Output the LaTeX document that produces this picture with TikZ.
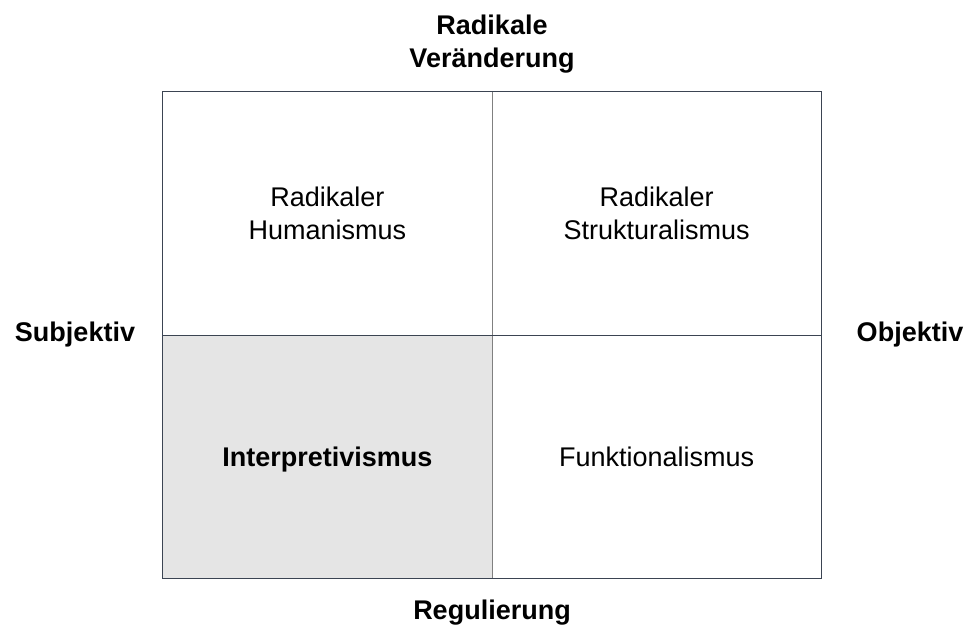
\documentclass[tikz,border=0pt]{standalone}
\usepackage{fontspec}
\setmainfont{Liberation Sans}
\usepackage{xcolor}
\usepackage{tikz}
\usetikzlibrary{positioning}
\definecolor{gridline}{HTML}{3B4452}
\definecolor{cellgray}{HTML}{E5E5E5}
\tikzset{
  cell/.style={minimum width=329pt,minimum height=243pt,inner sep=0pt,
    align=center,font=\fontsize{27}{33}\selectfont},
  axis/.style={align=center,font=\fontsize{27}{33}\selectfont\bfseries}
}

\begin{document}
\begin{tikzpicture}[x=1pt,y=-1pt]
      \useasboundingbox (0,0) rectangle (965,630);
      \coordinate (gcenter) at (492,335);
      \node[cell,anchor=south east] (humanismus) at (gcenter)
      {Radikaler\\Humanismus};
      \node[cell,anchor=south west] (strukturalismus) at (gcenter)
      {Radikaler\\Strukturalismus};
      \node[cell,anchor=north east,fill=cellgray,text depth=0pt] (interpretiv) at (gcenter)
      {\bfseries Interpretivismus};
      \node[cell,anchor=north west] (funktional) at (gcenter)
      {Funktionalismus};
      \draw[color=gray,line width=1pt] (humanismus.north east) -- (interpretiv.south east);
      \draw[color=gridline,line width=1pt] (humanismus.south west) -- (strukturalismus.south east);
      \draw[color=gridline,line width=1pt] (humanismus.north west) rectangle (funktional.south east);
      \node[axis,above=15pt of humanismus.north east] (veraenderung) {Radikale\\Veränderung};
      \node[axis,below=18pt of interpretiv.south east] (regulierung) {Regulierung};
      \node[axis] (subjektiv) at (75,335) {Subjektiv};
      \node[axis] (objektiv) at (910,335) {Objektiv};
    \end{tikzpicture}
\end{document}
